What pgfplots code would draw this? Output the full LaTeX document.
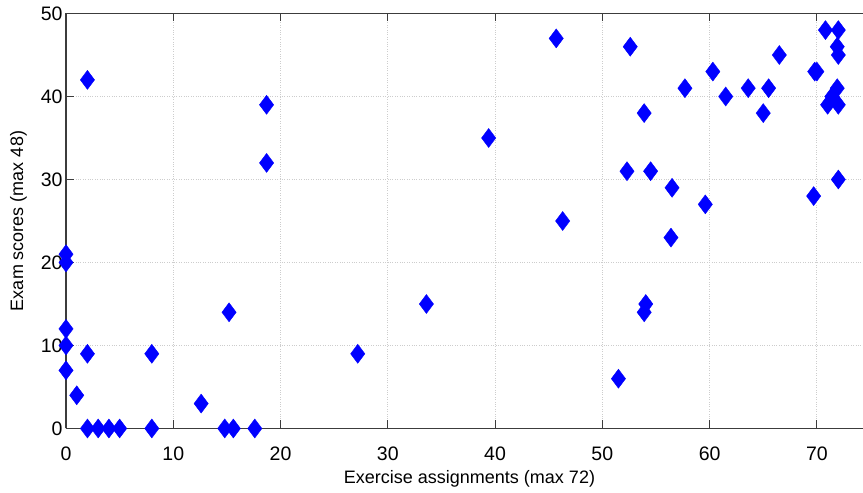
\documentclass[border=0pt]{standalone}
\usepackage{fontspec}
\setmainfont{Liberation Sans}
\usepackage{pgfplots}
\pgfplotsset{compat=1.18}
\usetikzlibrary{calc}
\definecolor{gridgray}{RGB}{205,205,205}
\definecolor{axisgray}{RGB}{60,60,60}
\begin{document}
\begin{tikzpicture}
\begin{axis}[
  name=ax,
  scale only axis,
  width=797pt, height=415pt,
  xmin=0, xmax=74.3, ymin=0, ymax=50,
  axis x line*=box, axis y line*=left,
  xtick={0,10,...,70}, ytick={0,10,...,50},
  grid=major,
  major grid style={gridgray, dotted, line width=0.8pt},
  tick align=inside,
  major tick length=8pt,
  tick style={axisgray, line width=1pt},
  axis line style={axisgray, line width=1.2pt},
  /pgf/number format/assume math mode=true,
  ticklabel style={font=\fontsize{19.5}{22}\selectfont},
  xticklabel style={yshift=-15pt},
  label style={font=\fontsize{18}{21}\selectfont},
  xlabel={Exercise assignments (max 72)},
  xlabel style={yshift=-3pt, xshift=5pt},
  ylabel={Exam scores (max 48)},
  ylabel style={yshift=7pt},
  clip=false,
]
\addplot[only marks, mark=diamond*, mark size=9.5pt, blue, mark options={draw=blue, fill=blue}] coordinates {
(0,21) (0,20) (0,12) (0,10) (0,7) (1,4) (2,9) (2,42)
(2,0) (3,0) (4,0) (5,0) (8,0) (8,9) (12.6,3) (14.8,0) (15.6,0) (17.6,0) (15.2,14)
(18.7,39) (18.7,32) (27.2,9) (33.6,15) (39.4,35) (45.7,47) (46.3,25)
(51.5,6) (52.3,31) (52.6,46) (53.9,38) (53.9,14) (54.05,15) (54.5,31)
(56.4,23) (56.5,29) (57.7,41) (59.6,27) (60.3,43) (61.5,40) (63.6,41)
(65,38) (65.5,41) (66.5,45) (69.7,28) (69.8,43) (70,43)
(70.8,48) (72,48) (71.9,46) (72,45) (71.9,41) (71.4,40) (71,39) (72,39) (72,30)
};
\end{axis}
\pgfresetboundingbox
\useasboundingbox ($(ax.south west)+(-66pt,-63.7pt)$) rectangle ($(ax.north east)+(0pt,13.5pt)$);
\end{tikzpicture}
\end{document}
